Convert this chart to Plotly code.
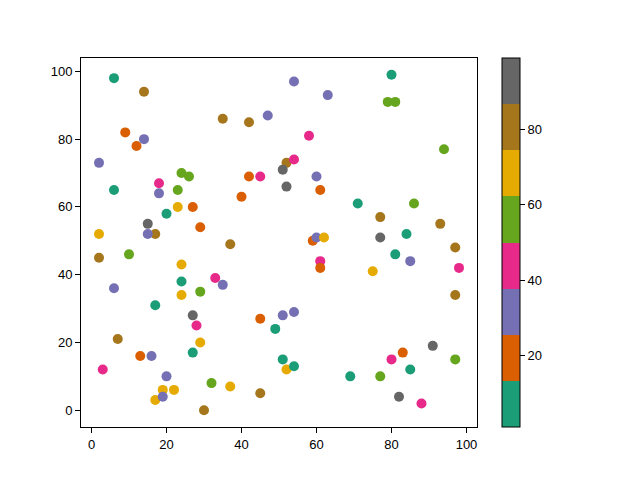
import plotly.graph_objects as go

# scatter data
x = [6, 14, 9, 12, 14, 2, 6, 18, 18, 24,
     26, 23, 15, 17, 15, 20, 23, 27, 29, 2,
     2, 10, 24, 24, 24, 6, 17, 29, 27, 28,
     27, 29, 7, 13, 16, 3, 20, 19, 22, 17,
     19, 32, 30, 37, 35, 42, 47, 54, 63, 58,
     40, 42, 45, 52, 51, 54, 52, 60, 61, 37,
     59, 60, 62, 61, 61, 33, 35, 45, 49, 51,
     54, 51, 52, 54, 45, 80, 79, 81, 94, 71,
     86, 77, 93, 77, 84, 85, 81, 97, 98, 75,
     97, 91, 83, 80, 85, 97, 69, 77, 82, 88]
y = [98, 94, 82, 78, 80, 73, 65, 67, 64, 70,
     69, 65, 55, 52, 52, 58, 60, 60, 54, 52,
     45, 46, 43, 38, 34, 36, 31, 35, 28, 25,
     17, 20, 21, 16, 16, 12, 10, 6, 6, 3,
     4, 8, 0, 7, 86, 85, 87, 97, 93, 81,
     63, 69, 69, 73, 71, 74, 66, 69, 65, 49,
     50, 51, 51, 44, 42, 39, 37, 27, 24, 28,
     29, 15, 12, 13, 5, 99, 91, 91, 77, 61,
     61, 57, 55, 51, 52, 44, 46, 48, 42, 41,
     34, 19, 17, 15, 12, 15, 10, 10, 4, 2]
c = [7, 80, 19, 19, 31, 31, 7, 44, 31, 56,
     56, 56, 93, 80, 31, 7, 68, 19, 19, 68,
     80, 56, 68, 7, 68, 31, 7, 56, 93, 44,
     7, 68, 80, 19, 31, 44, 31, 68, 68, 68,
     31, 56, 80, 68, 80, 80, 31, 31, 31, 44,
     19, 19, 44, 80, 93, 44, 93, 31, 19, 80,
     19, 31, 68, 44, 19, 44, 31, 19, 7, 31,
     31, 7, 68, 7, 80, 7, 56, 56, 56, 7,
     56, 80, 80, 93, 7, 31, 7, 80, 44, 68,
     80, 93, 19, 44, 7, 56, 7, 56, 93, 44]

dark2 = ["#1b9e77", "#d95f02", "#7570b3", "#e7298a",
         "#66a61e", "#e6ab02", "#a6761d", "#666666"]

# stepped colorscale so the bar shows 8 flat blocks
scale = []
for i, col in enumerate(dark2):
    scale.append([i / 8, col])
    scale.append([(i + 1) / 8, col])

fig = go.Figure()

fig.add_trace(go.Scatter(
    x=x,
    y=y,
    mode="markers",
    marker=dict(
        size=10,
        color=c,
        colorscale=scale,
        cmin=1,
        cmax=99,
        line=dict(width=0),
        colorbar=dict(
            x=1.062,
            xanchor="left",
            xpad=0,
            ypad=0,
            y=0.5,
            len=1,
            thickness=18,
            outlinecolor="black",
            outlinewidth=1,
            tickvals=[20, 40, 60, 80],
            ticks="outside",
            ticklen=5,
            tickcolor="black",
            tickfont=dict(size=13, color="black"),
        ),
    ),
    showlegend=False,
))

axis_style = dict(
    showgrid=False,
    zeroline=False,
    showline=True,
    linecolor="black",
    linewidth=1,
    mirror=True,
    ticks="outside",
    ticklen=5,
    tickcolor="black",
    tickfont=dict(size=13, color="black"),
)

fig.update_xaxes(range=[-2.8, 102.8], tickvals=[0, 20, 40, 60, 80, 100], **axis_style)
fig.update_yaxes(range=[-4.95, 103.95], tickvals=[0, 20, 40, 60, 80, 100], **axis_style)

fig.update_layout(
    width=640,
    height=480,
    margin=dict(l=73, r=171, t=50, b=61),
    paper_bgcolor="white",
    plot_bgcolor="white",
    font=dict(family="Liberation Sans, DejaVu Sans, sans-serif"),
)

fig.write_html("out.html")
